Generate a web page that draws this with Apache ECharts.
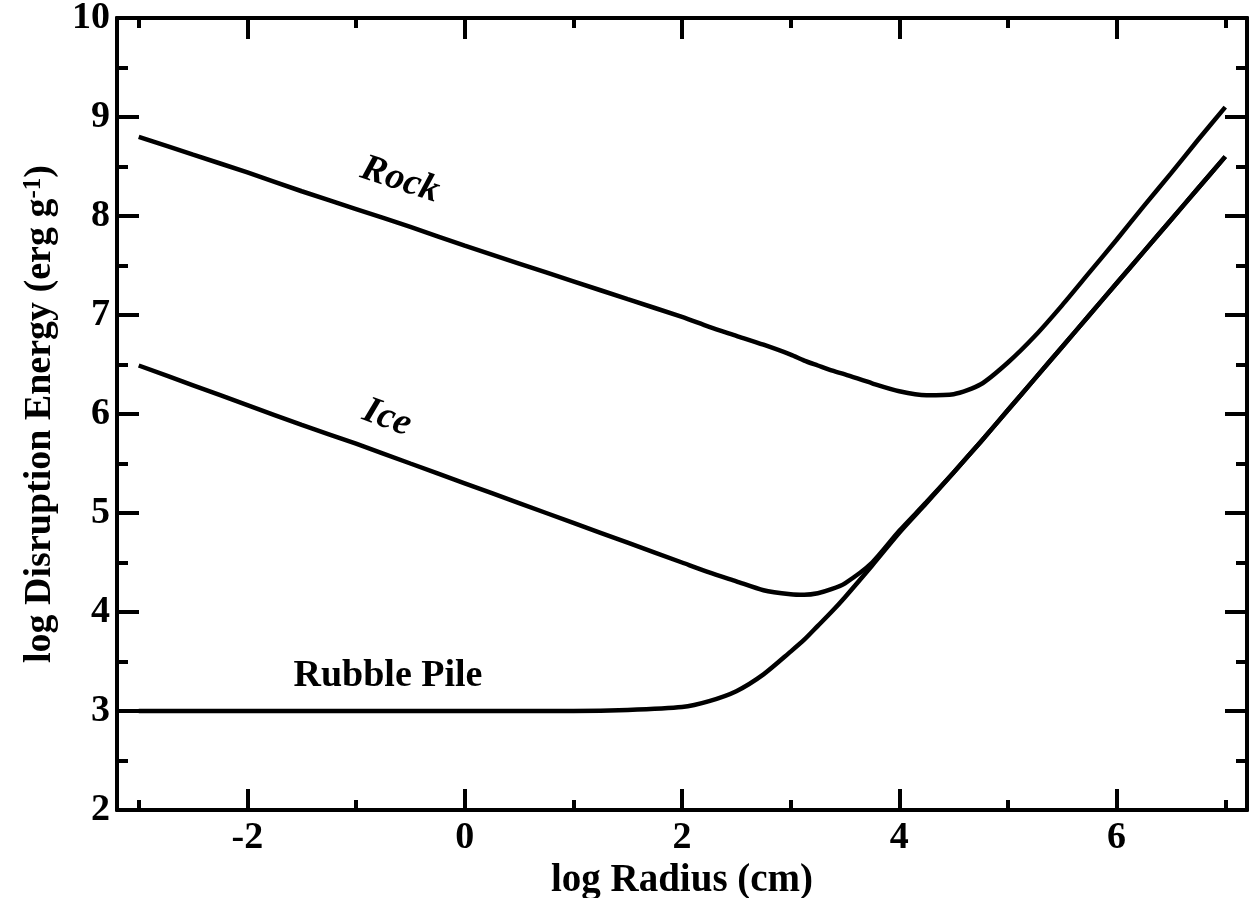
<!DOCTYPE html>
<html>
<head>
<meta charset="utf-8">
<script src="https://cdn.jsdelivr.net/npm/echarts@6/dist/echarts.min.js"></script>
<style>
html,body{margin:0;padding:0;background:#fff;overflow:hidden;}
#chart{width:1253px;height:898px;}
</style>
</head>
<body>
<div id="chart"></div>
<script>
// log Radius (cm)
const logRadius = [-3,-2.5,-2,-1.5,-1,-0.5,0,0.5,1,1.5,2,2.25,2.5,2.75,3,3.125,3.25,3.375,3.5,3.75,4,4.25,4.5,4.75,5,5.25,5.5,5.75,6,6.25,6.5,6.75,7];
// log Disruption Energy (erg g^-1)
const rock   = [8.80,8.62,8.44,8.25,8.07,7.89,7.70,7.52,7.34,7.16,6.98,6.88,6.79,6.70,6.60,6.54,6.49,6.44,6.40,6.31,6.23,6.19,6.20,6.30,6.52,6.79,7.10,7.43,7.76,8.10,8.43,8.77,9.10];
const ice    = [6.49,6.29,6.09,5.89,5.70,5.50,5.30,5.10,4.90,4.70,4.50,4.40,4.31,4.22,4.18,4.175,4.19,4.23,4.29,4.50,4.82,5.11,5.41,5.72,6.04,6.36,6.68,7.00,7.32,7.64,7.96,8.28,8.60];
const rubble = [3.00,3.00,3.00,3.00,3.00,3.00,3.00,3.00,3.00,3.01,3.04,3.10,3.20,3.37,3.60,3.72,3.86,4.00,4.15,4.47,4.80,5.10,5.41,5.72,6.04,6.36,6.68,7.00,7.32,7.64,7.96,8.28,8.60];
const xMajorTicks = [-2,0,2,4,6];
const xMinorTicks = [-3,-1,1,3,5,7];
const curveLabels = ['Rock','Ice','Rubble Pile'];

const FONT = '"Liberation Serif","Times New Roman",serif';
const pair = ys => logRadius.map((x,i)=>[x, ys[i]]);
const lineSty = {color:'#000', width:4.5};

function xAx(pos, ticks, len, labels, extra){
  return Object.assign({
    type:'value', position:pos, min:-3.2, max:7.2,
    axisLine:{show:true, onZero:false, lineStyle:{color:'#000', width:4}},
    axisTick:{show:true, inside:true, length:len, customValues:ticks, lineStyle:{color:'#000', width:4}},
    axisLabel:labels ? {show:true, customValues:ticks, color:'#000', fontFamily:FONT, fontWeight:'bold', fontSize:38, margin:9} : {show:false},
    splitLine:{show:false}
  }, extra||{});
}
function yAx(pos, labels, extra){
  return Object.assign({
    type:'value', position:pos, min:2, max:10, interval:1,
    axisLine:{show:true, onZero:false, lineStyle:{color:'#000', width:4}},
    axisTick:{show:true, inside:true, length:22, lineStyle:{color:'#000', width:4}},
    minorTick:{show:true, splitNumber:2, length:11, lineStyle:{color:'#000', width:4}},
    axisLabel:labels ? {show:true, color:'#000', fontFamily:FONT, fontWeight:'bold', fontSize:38, margin:7} : {show:false},
    splitLine:{show:false}, minorSplitLine:{show:false}
  }, extra||{});
}

const chart = echarts.init(document.getElementById('chart'), null, {renderer:'canvas'});
chart.setOption({
  animation:false,
  backgroundColor:'#fff',
  grid:{left:117, right:6, top:18, bottom:88, containLabel:false, outerBoundsMode:'none'},
  xAxis:[
    xAx('bottom', xMajorTicks, 21, true, {
      name:'log Radius (cm)', nameLocation:'middle', nameGap:45,
      nameTextStyle:{color:'#000', fontFamily:FONT, fontWeight:'bold', fontSize:39}
    }),
    xAx('bottom', xMinorTicks, 10, false),
    xAx('top', xMajorTicks, 21, false),
    xAx('top', xMinorTicks, 10, false)
  ],
  yAxis:[
    yAx('left', true, {
      name:'{a|log Disruption Energy (erg g}{s|-1}{a|)}', nameLocation:'middle', nameGap:58,
      nameTextStyle:{color:'#000', fontFamily:FONT, fontWeight:'bold', fontSize:38,
        rich:{
          a:{color:'#000', fontFamily:FONT, fontWeight:'bold', fontSize:38},
          s:{color:'#000', fontFamily:FONT, fontWeight:'bold', fontSize:25, verticalAlign:'top'}
        }}
    }),
    yAx('right', false)
  ],
  series:[
    {name:curveLabels[0], type:'line', data:pair(rock), showSymbol:false, smooth:0.25, lineStyle:lineSty, xAxisIndex:0, yAxisIndex:0},
    {name:curveLabels[1], type:'line', data:pair(ice), showSymbol:false, smooth:0.25, lineStyle:lineSty, xAxisIndex:0, yAxisIndex:0},
    {name:curveLabels[2], type:'line', data:pair(rubble), showSymbol:false, smooth:0.25, lineStyle:lineSty, xAxisIndex:0, yAxisIndex:0}
  ],
  graphic:[
    {type:'text', x:400, y:180, rotation:-0.32, style:{text:curveLabels[0], fill:'#000', font:'italic bold 38px '+FONT, textAlign:'center', textVerticalAlign:'middle'}},
    {type:'text', x:387, y:418, rotation:-0.36, style:{text:curveLabels[1], fill:'#000', font:'italic bold 38px '+FONT, textAlign:'center', textVerticalAlign:'middle'}},
    {type:'text', x:388, y:676, style:{text:curveLabels[2], fill:'#000', font:'bold 38px '+FONT, textAlign:'center', textVerticalAlign:'middle'}}
  ]
});
</script>
</body>
</html>
